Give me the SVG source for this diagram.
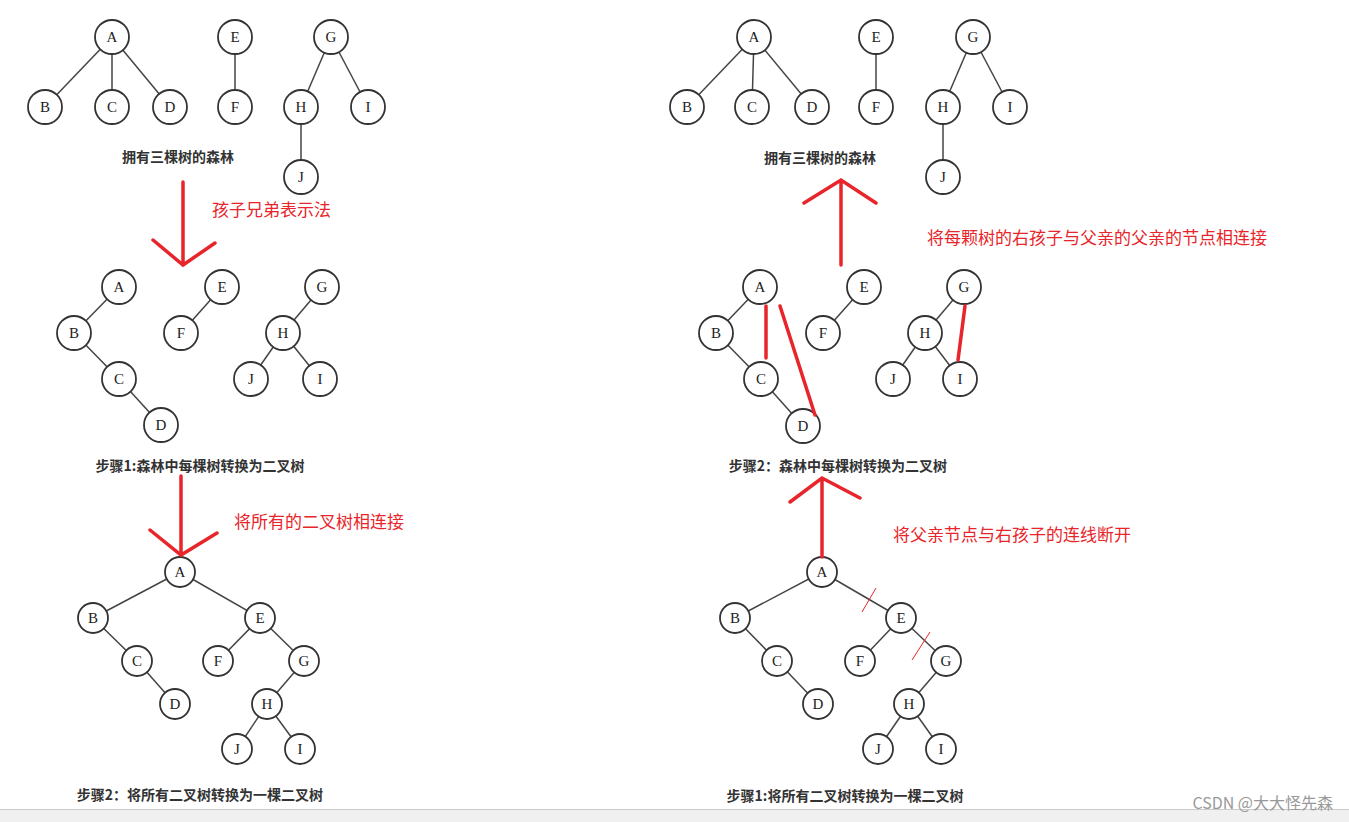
<svg xmlns="http://www.w3.org/2000/svg" width="1349" height="822" viewBox="0 0 1349 822">
<style>
.n circle{fill:#fff;stroke:#333;stroke-width:1.8}
.n text{font-family:"Liberation Serif",serif;font-size:15px;text-anchor:middle;fill:#222}
.e line{stroke:#444;stroke-width:1.5}
.cap{font-family:"Noto Sans CJK SC",sans-serif;font-size:14px;font-weight:bold;fill:#333;text-anchor:middle}
.r{stroke:#e8252b;stroke-width:3.5;fill:none;stroke-linecap:round}
.rt{font-family:"Noto Sans CJK SC",sans-serif;font-size:17px;fill:#e8252b}
</style>
<rect width="1349" height="822" fill="#fff"/>
<defs>
<g id="tA"></g>
</defs>
<g id="connectors" class="e">
<!-- top left -->
<line x1="112" y1="37" x2="45" y2="107"/><line x1="112" y1="37" x2="112" y2="107"/><line x1="112" y1="37" x2="170" y2="107"/>
<line x1="235" y1="37" x2="235" y2="107"/><line x1="331" y1="37" x2="301" y2="107"/><line x1="331" y1="37" x2="368" y2="107"/><line x1="301" y1="107" x2="301" y2="177"/>
<!-- top right -->
<line x1="754" y1="37" x2="687" y2="107"/><line x1="754" y1="37" x2="752" y2="107"/><line x1="754" y1="37" x2="812" y2="107"/>
<line x1="876" y1="37" x2="876" y2="107"/><line x1="973" y1="37" x2="943" y2="107"/><line x1="973" y1="37" x2="1010" y2="107"/><line x1="943" y1="107" x2="943" y2="177"/>
<!-- mid left -->
<line x1="119" y1="287" x2="74" y2="333"/><line x1="74" y1="333" x2="119" y2="379"/><line x1="119" y1="379" x2="161" y2="425"/>
<line x1="222" y1="287" x2="181" y2="333"/><line x1="322" y1="287" x2="283" y2="333"/><line x1="283" y1="333" x2="251" y2="379"/><line x1="283" y1="333" x2="320" y2="379"/>
<!-- mid right -->
<line x1="760" y1="287" x2="716" y2="333"/><line x1="716" y1="333" x2="761" y2="379"/><line x1="761" y1="379" x2="803" y2="426"/>
<line x1="864" y1="287" x2="823" y2="333"/><line x1="964" y1="287" x2="925" y2="333"/><line x1="925" y1="333" x2="893" y2="379"/><line x1="925" y1="333" x2="960" y2="379"/>
<!-- bottom left -->
<line x1="180" y1="572" x2="93" y2="618"/><line x1="180" y1="572" x2="260" y2="618"/><line x1="93" y1="618" x2="137" y2="661"/><line x1="137" y1="661" x2="175" y2="704"/>
<line x1="260" y1="618" x2="218" y2="661"/><line x1="260" y1="618" x2="304" y2="661"/><line x1="304" y1="661" x2="267" y2="704"/><line x1="267" y1="704" x2="237" y2="749"/><line x1="267" y1="704" x2="300" y2="749"/>
<!-- bottom right -->
<line x1="822" y1="572" x2="735" y2="618"/><line x1="822" y1="572" x2="901" y2="618"/><line x1="735" y1="618" x2="777" y2="661"/><line x1="777" y1="661" x2="818" y2="704"/>
<line x1="901" y1="618" x2="860" y2="661"/><line x1="901" y1="618" x2="946" y2="661"/><line x1="946" y1="661" x2="909" y2="704"/><line x1="909" y1="704" x2="878" y2="749"/><line x1="909" y1="704" x2="941" y2="749"/>
</g>
<g class="n">
<g id="tl-A"><circle cx="112" cy="37" r="17"/><text x="112" y="42">A</text></g>
<g id="tl-B"><circle cx="45" cy="107" r="17"/><text x="45" y="112">B</text></g>
<g id="tl-C"><circle cx="112" cy="107" r="17"/><text x="112" y="112">C</text></g>
<g id="tl-D"><circle cx="170" cy="107" r="17"/><text x="170" y="112">D</text></g>
<g id="tl-E"><circle cx="235" cy="37" r="17"/><text x="235" y="42">E</text></g>
<g id="tl-F"><circle cx="235" cy="107" r="17"/><text x="235" y="112">F</text></g>
<g id="tl-G"><circle cx="331" cy="37" r="17"/><text x="331" y="42">G</text></g>
<g id="tl-H"><circle cx="301" cy="107" r="17"/><text x="301" y="112">H</text></g>
<g id="tl-I"><circle cx="368" cy="107" r="17"/><text x="368" y="112">I</text></g>
<g id="tl-J"><circle cx="301" cy="177" r="17"/><text x="301" y="182">J</text></g>

<g id="tr-A"><circle cx="754" cy="37" r="17"/><text x="754" y="42">A</text></g>
<g id="tr-B"><circle cx="687" cy="107" r="17"/><text x="687" y="112">B</text></g>
<g id="tr-C"><circle cx="752" cy="107" r="17"/><text x="752" y="112">C</text></g>
<g id="tr-D"><circle cx="812" cy="107" r="17"/><text x="812" y="112">D</text></g>
<g id="tr-E"><circle cx="876" cy="37" r="17"/><text x="876" y="42">E</text></g>
<g id="tr-F"><circle cx="876" cy="107" r="17"/><text x="876" y="112">F</text></g>
<g id="tr-G"><circle cx="973" cy="37" r="17"/><text x="973" y="42">G</text></g>
<g id="tr-H"><circle cx="943" cy="107" r="17"/><text x="943" y="112">H</text></g>
<g id="tr-I"><circle cx="1010" cy="107" r="17"/><text x="1010" y="112">I</text></g>
<g id="tr-J"><circle cx="943" cy="177" r="17"/><text x="943" y="182">J</text></g>

<g id="ml-A"><circle cx="119" cy="287" r="17"/><text x="119" y="292">A</text></g>
<g id="ml-B"><circle cx="74" cy="333" r="17"/><text x="74" y="338">B</text></g>
<g id="ml-C"><circle cx="119" cy="379" r="17"/><text x="119" y="384">C</text></g>
<g id="ml-D"><circle cx="161" cy="425" r="17"/><text x="161" y="430">D</text></g>
<g id="ml-E"><circle cx="222" cy="287" r="17"/><text x="222" y="292">E</text></g>
<g id="ml-F"><circle cx="181" cy="333" r="17"/><text x="181" y="338">F</text></g>
<g id="ml-G"><circle cx="322" cy="287" r="17"/><text x="322" y="292">G</text></g>
<g id="ml-H"><circle cx="283" cy="333" r="17"/><text x="283" y="338">H</text></g>
<g id="ml-J"><circle cx="251" cy="379" r="17"/><text x="251" y="384">J</text></g>
<g id="ml-I"><circle cx="320" cy="379" r="17"/><text x="320" y="384">I</text></g>

<g id="mr-A"><circle cx="760" cy="287" r="17"/><text x="760" y="292">A</text></g>
<g id="mr-B"><circle cx="716" cy="333" r="17"/><text x="716" y="338">B</text></g>
<g id="mr-C"><circle cx="761" cy="379" r="17"/><text x="761" y="384">C</text></g>
<g id="mr-D"><circle cx="803" cy="426" r="17"/><text x="803" y="431">D</text></g>
<g id="mr-E"><circle cx="864" cy="287" r="17"/><text x="864" y="292">E</text></g>
<g id="mr-F"><circle cx="823" cy="333" r="17"/><text x="823" y="338">F</text></g>
<g id="mr-G"><circle cx="964" cy="287" r="17"/><text x="964" y="292">G</text></g>
<g id="mr-H"><circle cx="925" cy="333" r="17"/><text x="925" y="338">H</text></g>
<g id="mr-J"><circle cx="893" cy="379" r="17"/><text x="893" y="384">J</text></g>
<g id="mr-I"><circle cx="960" cy="379" r="17"/><text x="960" y="384">I</text></g>

<g id="bl-A"><circle cx="180" cy="572" r="15"/><text x="180" y="577">A</text></g>
<g id="bl-B"><circle cx="93" cy="618" r="15"/><text x="93" y="623">B</text></g>
<g id="bl-C"><circle cx="137" cy="661" r="15"/><text x="137" y="666">C</text></g>
<g id="bl-D"><circle cx="175" cy="704" r="15"/><text x="175" y="709">D</text></g>
<g id="bl-E"><circle cx="260" cy="618" r="15"/><text x="260" y="623">E</text></g>
<g id="bl-F"><circle cx="218" cy="661" r="15"/><text x="218" y="666">F</text></g>
<g id="bl-G"><circle cx="304" cy="661" r="15"/><text x="304" y="666">G</text></g>
<g id="bl-H"><circle cx="267" cy="704" r="15"/><text x="267" y="709">H</text></g>
<g id="bl-J"><circle cx="237" cy="749" r="15"/><text x="237" y="754">J</text></g>
<g id="bl-I"><circle cx="300" cy="749" r="15"/><text x="300" y="754">I</text></g>

<g id="br-A"><circle cx="822" cy="572" r="15"/><text x="822" y="577">A</text></g>
<g id="br-B"><circle cx="735" cy="618" r="15"/><text x="735" y="623">B</text></g>
<g id="br-C"><circle cx="777" cy="661" r="15"/><text x="777" y="666">C</text></g>
<g id="br-D"><circle cx="818" cy="704" r="15"/><text x="818" y="709">D</text></g>
<g id="br-E"><circle cx="901" cy="618" r="15"/><text x="901" y="623">E</text></g>
<g id="br-F"><circle cx="860" cy="661" r="15"/><text x="860" y="666">F</text></g>
<g id="br-G"><circle cx="946" cy="661" r="15"/><text x="946" y="666">G</text></g>
<g id="br-H"><circle cx="909" cy="704" r="15"/><text x="909" y="709">H</text></g>
<g id="br-J"><circle cx="878" cy="749" r="15"/><text x="878" y="754">J</text></g>
<g id="br-I"><circle cx="941" cy="749" r="15"/><text x="941" y="754">I</text></g>
</g>
<g id="captions">
<text class="cap" x="178" y="162">拥有三棵树的森林</text>
<text class="cap" x="820" y="163">拥有三棵树的森林</text>
<text class="cap" x="200" y="471">步骤1:森林中每棵树转换为二叉树</text>
<text class="cap" x="838" y="471">步骤2：森林中每棵树转换为二叉树</text>
<text class="cap" x="200" y="800">步骤2：将所有二叉树转换为一棵二叉树</text>
<text class="cap" x="845" y="801">步骤1:将所有二叉树转换为一棵二叉树</text>
</g>
<g id="red">
<path class="r" d="M183 182V265M153 240L183 265L215 243"/>
<path class="r" d="M181 476V555M150 530L181 555L217 533"/>
<path class="r" d="M841 265V180M804 203L841 180L876 203"/>
<path class="r" d="M822 557V478M790 502L822 478L860 498"/>
<path class="r" d="M766 306V358M780 306L815 415M965 306L958 360" stroke-width="3"/>
<path d="M862 612L876 588M912 660L930 632" stroke="#e8252b" stroke-width="1" fill="none"/>
<text class="rt" x="212" y="216">孩子兄弟表示法</text>
<text class="rt" x="234" y="528">将所有的二叉树相连接</text>
<text class="rt" x="927" y="244">将每颗树的右孩子与父亲的父亲的节点相连接</text>
<text class="rt" x="893" y="541">将父亲节点与右孩子的连线断开</text>
</g>
<rect x="0" y="809" width="1349" height="13" fill="#f0f0f0"/>
<line x1="0" y1="809.5" x2="1349" y2="809.5" stroke="#ccc"/>
<text x="1333" y="809" text-anchor="end" font-family="Noto Sans CJK SC,sans-serif" font-size="16" fill="#999">CSDN @大大怪先森</text>
</svg>
